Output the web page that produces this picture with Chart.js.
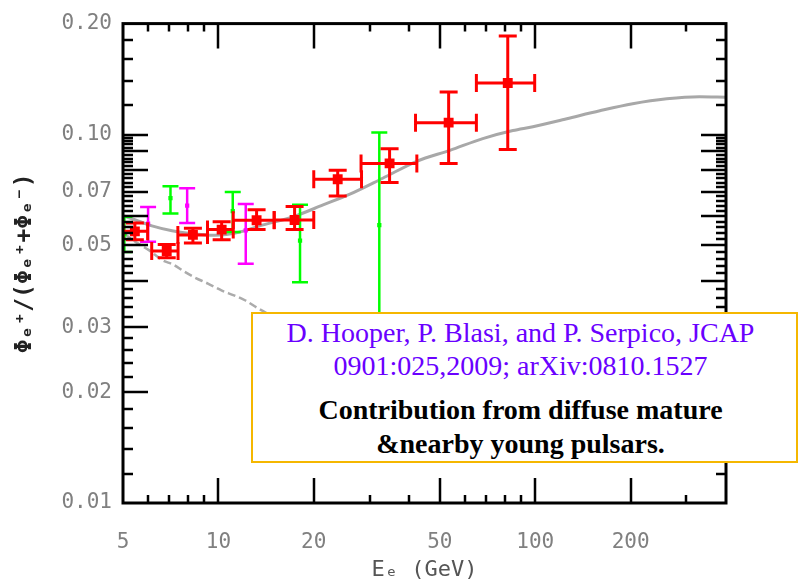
<!DOCTYPE html>
<html>
<head>
<meta charset="utf-8">
<script src="https://cdn.jsdelivr.net/npm/chart.js@4.4.0/dist/chart.umd.min.js"></script>
<style>
  html, body { margin: 0; padding: 0; background: #fff; }
  #wrap { position: relative; width: 800px; height: 583px; }
  #box { position: absolute; left: 251px; top: 312px; width: 543px; height: 147px;
         border: 2px solid #f5b700; background: #fff;
         font-family: "Liberation Serif", serif; font-size: 28px; text-align: center; }
  #box div { position: absolute; left: 0; right: 8px; height: 32px; line-height: 32px; white-space: nowrap; }
  .ref { color: #6a00ff; }
  .note { color: #000; font-weight: bold; }
</style>
</head>
<body>
<div id="wrap">
  <canvas id="chart" width="800" height="583"></canvas>
  <div id="box">
    <div class="ref" style="top:3px">D. Hooper, P. Blasi, and P. Serpico, JCAP</div>
    <div class="ref" style="top:36px">0901:025,2009; arXiv:0810.1527</div>
    <div class="note" style="top:80px">Contribution from diffuse mature</div>
    <div class="note" style="top:114px">&amp;nearby young pulsars.</div>
  </div>
</div>
<script>
// axes
const xTickValues = [5, 10, 20, 50, 100, 200];
const xTickLabels = ['5', '10', '20', '50', '100', '200'];
const xLongTicks = [10, 20, 50, 100, 200];
const xShortTicks = [6, 7, 8, 9, 30, 40, 60, 70, 80, 90, 300];
const yTickValues = [0.01, 0.02, 0.03, 0.05, 0.07, 0.1, 0.2];
const yTickLabels = ['0.01', '0.02', '0.03', '0.05', '0.07', '0.10', '0.20'];

// red points (energy bins with horizontal errors)
const redE = [5.45, 6.87, 8.31, 10.24, 13.2, 17.4, 23.8, 34.7, 53.3, 81.9];
const redELo = [5.0, 6.16, 7.45, 9.24, 11.14, 15.0, 20.0, 28.2, 41.9, 65.2];
const redEHi = [5.98, 7.46, 9.24, 11.14, 15.0, 20.0, 28.3, 42.3, 65.2, 99.6];
const redFrac = [0.0546, 0.0483, 0.0534, 0.0552, 0.0585, 0.0586, 0.0756, 0.0835, 0.1077, 0.138];
const redLo = [0.0518, 0.0463, 0.0508, 0.0518, 0.0552, 0.0552, 0.0681, 0.0741, 0.0835, 0.0911];
const redHi = [0.0575, 0.0503, 0.0557, 0.058, 0.0625, 0.0638, 0.080, 0.0915, 0.1305, 0.185];

// green points
const greenE = [5.05, 7.06, 11.1, 18.1, 32.2];
const greenFrac = [0.0537, 0.0672, 0.0620, 0.0515, 0.0568];
const greenLo = [0.0480, 0.0610, 0.0544, 0.0397, 0.020];
const greenHi = [0.0598, 0.0724, 0.0698, 0.0645, 0.1013];

// magenta points
const magE = [6.0, 7.97, 12.2];
const magFrac = [0.0573, 0.0641, 0.0549];
const magLo = [0.0512, 0.0575, 0.0446];
const magHi = [0.0636, 0.0715, 0.0648];

// model curves
const upperE = [5.04, 5.45, 6.17, 7.14, 8.14, 9.75, 11.7, 13.5, 17.1, 21.4, 26.0, 33.0, 42.3, 53.8, 68.3, 85.0, 98.3, 125.8, 159.9, 203, 260, 330, 400];
const upperFrac = [0.0601, 0.0587, 0.0565, 0.0548, 0.0539, 0.0533, 0.0544, 0.0565, 0.0597, 0.0644, 0.0689, 0.0761, 0.0846, 0.0906, 0.0975, 0.1025, 0.105, 0.1104, 0.116, 0.1212, 0.125, 0.1266, 0.1263];
const lowerE = [5.04, 5.54, 6.0, 6.69, 7.19, 7.79, 8.43, 9.27, 10.26, 11.2, 12.13, 13.3, 15.6];
const lowerFrac = [0.0538, 0.0508, 0.0487, 0.0455, 0.0444, 0.0425, 0.0409, 0.0394, 0.0377, 0.0366, 0.0355, 0.0338, 0.0313];

const axisFont = { family: 'DejaVu Sans Mono', size: 21 };

function pts(xs, ys) {
    return xs.map((x, i) => ({ x: x, y: ys[i] }));
}

const errorBars = {
    id: 'errorBars',
    afterDatasetDraw(chart, args) {
        const ds = chart.data.datasets[args.index];
        if (!ds.err) return;
        const e = ds.err;
        const c = chart.ctx;
        const xs = chart.scales.x, ys = chart.scales.y;
        const area = chart.chartArea;
        c.save();
        c.beginPath();
        c.rect(area.left, area.top, area.right - area.left, area.bottom - area.top);
        c.clip();
        c.strokeStyle = ds.backgroundColor;
        c.lineWidth = e.width;
        c.lineCap = 'butt';
        ds.data.forEach((p, i) => {
            const px = xs.getPixelForValue(p.x);
            const py = ys.getPixelForValue(p.y);
            const top = ys.getPixelForValue(e.hi[i]);
            const bot = ys.getPixelForValue(e.lo[i]);
            c.beginPath();
            c.moveTo(px, top); c.lineTo(px, bot);
            c.moveTo(px - e.cap, top); c.lineTo(px + e.cap, top);
            c.moveTo(px - e.cap, bot); c.lineTo(px + e.cap, bot);
            if (e.xlo) {
                const l = xs.getPixelForValue(e.xlo[i]);
                const r = xs.getPixelForValue(e.xhi[i]);
                c.moveTo(l, py); c.lineTo(r, py);
                c.moveTo(l, py - e.cap); c.lineTo(l, py + e.cap);
                c.moveTo(r, py - e.cap); c.lineTo(r, py + e.cap);
            }
            c.stroke();
        });
        c.restore();
    }
};

const frameTicks = {
    id: 'frameTicks',
    afterDraw(chart) {
        const c = chart.ctx;
        const a = chart.chartArea;
        const xs = chart.scales.x, ys = chart.scales.y;
        c.save();
        c.strokeStyle = '#000';
        c.lineWidth = 2.5;
        c.beginPath();
        const xTick = (v, len) => {
            const px = Math.round(xs.getPixelForValue(v));
            c.moveTo(px, a.bottom); c.lineTo(px, a.bottom - len);
            c.moveTo(px, a.top); c.lineTo(px, a.top + len);
        };
        const yTick = (v, len) => {
            const py = Math.round(ys.getPixelForValue(v));
            c.moveTo(a.left, py); c.lineTo(a.left + len, py);
            c.moveTo(a.right, py); c.lineTo(a.right - len, py);
        };
        xLongTicks.forEach(v => xTick(v, 25));
        xShortTicks.forEach(v => xTick(v, 8));
        for (let k = 6; k <= 50; k++) {
            yTick(k * 0.002, k % 5 === 0 ? 25 : 10);
        }
        [0.12, 0.14, 0.16, 0.18].forEach(v => yTick(v, 10));
        c.stroke();
        c.lineWidth = 3;
        c.strokeRect(a.left, a.top, a.right - a.left, a.bottom - a.top);
        c.restore();
    }
};

new Chart(document.getElementById('chart'), {
    type: 'scatter',
    data: {
        datasets: [
            {
                label: 'red', data: pts(redE, redFrac), order: 1,
                pointStyle: 'rect', pointRadius: 7, borderWidth: 0, backgroundColor: '#ff0000',
                err: { lo: redLo, hi: redHi, xlo: redELo, xhi: redEHi, width: 3, cap: 9 }
            },
            {
                label: 'magenta', data: pts(magE, magFrac), order: 2,
                pointStyle: 'rect', pointRadius: 3, borderWidth: 0, backgroundColor: '#ff00ff',
                err: { lo: magLo, hi: magHi, width: 2.5, cap: 8 }
            },
            {
                label: 'green', data: pts(greenE, greenFrac), order: 3,
                pointStyle: 'rect', pointRadius: 3, borderWidth: 0, backgroundColor: '#00ff00',
                err: { lo: greenLo, hi: greenHi, width: 2.5, cap: 8 }
            },
            {
                label: 'total', type: 'line', data: pts(upperE, upperFrac), order: 4,
                showLine: true, borderColor: '#a8a8a8', borderWidth: 3, pointRadius: 0,
                cubicInterpolationMode: 'monotone', fill: false
            },
            {
                label: 'secondary', type: 'line', data: pts(lowerE, lowerFrac), order: 5,
                showLine: true, borderColor: '#ababab', borderWidth: 2.5, pointRadius: 0,
                borderDash: [8, 4], cubicInterpolationMode: 'monotone', fill: false
            }
        ]
    },
    options: {
        responsive: false,
        animation: false,
        layout: { padding: { left: 0, right: 74, top: 19, bottom: 0 } },
        plugins: { legend: { display: false }, tooltip: { enabled: false } },
        scales: {
            x: {
                type: 'logarithmic', min: 5, max: 400,
                grid: { display: false, drawTicks: false },
                border: { display: false },
                afterBuildTicks: s => { s.ticks = xTickValues.map(v => ({ value: v })); },
                afterFit: s => { s.height = 80; },
                ticks: {
                    autoSkip: false, maxRotation: 0, padding: 27, color: '#808080', font: axisFont,
                    callback: (v, i) => xTickLabels[i]
                },
                title: {
                    display: true, text: 'Eₑ (GeV)', color: '#555', font: { family: 'DejaVu Sans Mono', size: 22 },
                    padding: { top: 0, bottom: 0 }
                }
            },
            y: {
                type: 'logarithmic', min: 0.01, max: 0.2,
                grid: { display: false, drawTicks: false },
                border: { display: false },
                afterBuildTicks: s => { s.ticks = yTickValues.map(v => ({ value: v })); },
                afterFit: s => { s.width = 123; },
                ticks: {
                    autoSkip: false, padding: 11, color: '#808080', font: axisFont,
                    callback: (v, i) => yTickLabels[i]
                },
                title: {
                    display: true, text: 'Φₑ⁺/(Φₑ⁺+Φₑ⁻)', color: '#222',
                    font: { family: 'DejaVu Sans Mono', size: 23, weight: 'bold' },
                    padding: { top: 11, bottom: 0 }
                }
            }
        }
    },
    plugins: [errorBars, frameTicks]
});
</script>
</body>
</html>
